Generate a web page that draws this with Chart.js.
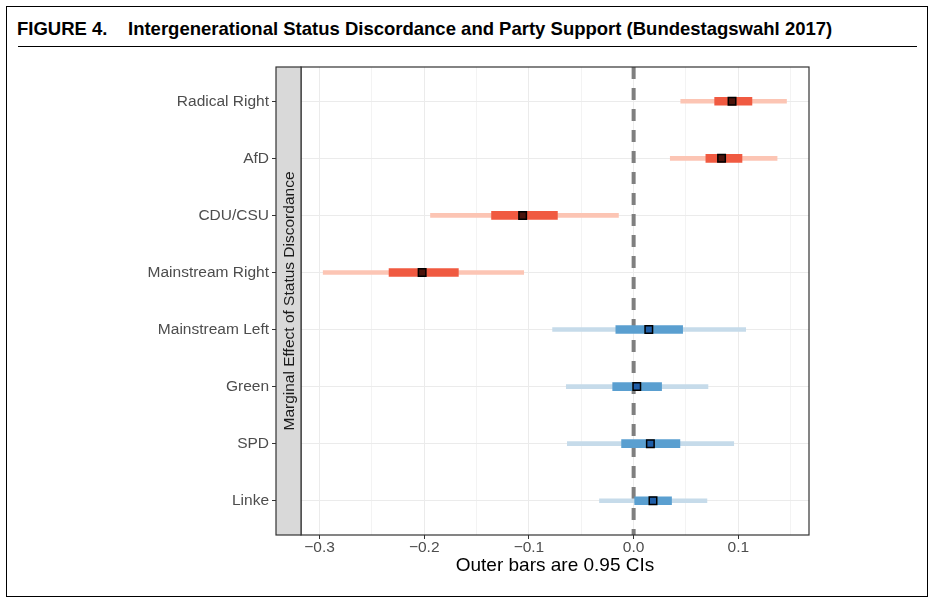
<!DOCTYPE html>
<html>
<head>
<meta charset="utf-8">
<script src="https://cdn.jsdelivr.net/npm/chart.js@4"></script>
<style>
  body { margin: 0; background: #fff; }
  #wrap { position: relative; width: 936px; height: 607px; overflow: hidden; }
  #frame { position: absolute; left: 6px; top: 6px; width: 922px; height: 591px; box-sizing: border-box; border: 1.5px solid #000; }
  .ttl { position: absolute; top: 18px; font: bold 18.5px "Liberation Sans", Arial, sans-serif; color: #000; line-height: 22px; white-space: nowrap; }
  #rule { position: absolute; left: 18px; top: 46px; width: 899px; border-top: 1.2px solid #000; }
  canvas { position: absolute; left: 0; top: 0; }
</style>
</head>
<body>
<div id="wrap">
  <div id="frame"></div>
  <div class="ttl" style="left:17px">FIGURE 4.</div>
  <div class="ttl" style="left:128px">Intergenerational Status Discordance and Party Support (Bundestagswahl 2017)</div>
  <div id="rule"></div>
  <canvas id="chart" width="936" height="607"></canvas>
</div>
<script>
// parties, top to bottom
const categories = ['Radical Right', 'AfD', 'CDU/CSU', 'Mainstream Right', 'Mainstream Left', 'Green', 'SPD', 'Linke'];
const groups = ['right', 'right', 'right', 'right', 'left', 'left', 'left', 'left'];

// marginal effects and intervals
const estimates = [0.094, 0.084, -0.106, -0.202, 0.0145, 0.003, 0.016, 0.0185];
const outerLow  = [0.045, 0.035, -0.194, -0.2965, -0.0774, -0.0643, -0.0633, -0.0326];
const outerHigh = [0.146, 0.137, -0.0145, -0.105, 0.107, 0.071, 0.0956, 0.070];
const innerLow  = [0.0774, 0.069, -0.1357, -0.2336, -0.017, -0.020, -0.0115, 0.001];
const innerHigh = [0.113, 0.1035, -0.0728, -0.1674, 0.0468, 0.0267, 0.0442, 0.0362];

const xTicks = [-0.3, -0.25, -0.2, -0.15, -0.1, -0.05, 0, 0.05, 0.1, 0.15];

const palette = {
    right: { outer: '#fcc5b4', inner: '#f05a41', point: '#4a130b' },
    left:  { outer: '#c6dbea', inner: '#5a9fd0', point: '#1f5ea8' }
};

const FONT = '"Liberation Sans", Arial, sans-serif';
const isMajor = v => Math.abs(v * 10 - Math.round(v * 10)) < 1e-9;
const fmt = v => v.toFixed(1).replace('-', '\u2212');

const stripPlugin = {
    id: 'strip',
    beforeDatasetsDraw(chart) {
        // dashed zero reference line, behind the bars
        const { ctx, chartArea } = chart;
        const x0 = chart.scales.x.getPixelForValue(0);
        ctx.save();
        ctx.strokeStyle = '#7f7f7f';
        ctx.lineWidth = 4;
        ctx.setLineDash([12, 9]);
        ctx.beginPath();
        ctx.moveTo(x0, chartArea.top);
        ctx.lineTo(x0, chartArea.bottom);
        ctx.stroke();
        ctx.restore();
    },
    afterDraw(chart) {
        const { ctx, chartArea } = chart;
        const h = chartArea.bottom - chartArea.top;
        ctx.save();
        // panel border
        ctx.strokeStyle = '#333';
        ctx.lineWidth = 1.2;
        ctx.strokeRect(chartArea.left, chartArea.top, chartArea.right - chartArea.left, h);
        // facet strip on the left
        const sx = chartArea.left - 25;
        ctx.fillStyle = '#d9d9d9';
        ctx.fillRect(sx, chartArea.top, 25, h);
        ctx.strokeRect(sx, chartArea.top, 25, h);
        ctx.translate(sx + 12.5, chartArea.top + h / 2);
        ctx.rotate(-Math.PI / 2);
        ctx.fillStyle = '#1a1a1a';
        ctx.font = '15.5px ' + FONT;
        ctx.textAlign = 'center';
        ctx.textBaseline = 'middle';
        ctx.fillText('Marginal Effect of Status Discordance', 0, 1);
        ctx.restore();
    }
};

const idx = categories.map((c, i) => i);

new Chart(document.getElementById('chart').getContext('2d'), {
    type: 'bar',
    data: {
        datasets: [
            {
                type: 'scatter',
                order: 0,
                data: idx.map(i => ({ x: estimates[i], y: i })),
                pointStyle: 'rect',
                pointRadius: 5.3,
                backgroundColor: idx.map(i => palette[groups[i]].point),
                borderColor: '#000',
                borderWidth: 1.5
            },
            {
                order: 1,
                data: idx.map(i => ({ x: [innerLow[i], innerHigh[i]], y: i })),
                backgroundColor: idx.map(i => palette[groups[i]].inner),
                barThickness: 8,
                grouped: false,
                borderSkipped: false
            },
            {
                order: 2,
                data: idx.map(i => ({ x: [outerLow[i], outerHigh[i]], y: i })),
                backgroundColor: idx.map(i => palette[groups[i]].outer),
                barThickness: 4,
                grouped: false,
                borderSkipped: false
            }
        ]
    },
    options: {
        indexAxis: 'y',
        responsive: false,
        animation: false,
        layout: { padding: { top: 67, right: 127, bottom: 0, left: 0 } },
        plugins: { legend: { display: false }, tooltip: { enabled: false } },
        scales: {
            x: {
                type: 'linear',
                min: -0.3177,
                max: 0.1675,
                offset: false,
                afterBuildTicks: s => { s.ticks = xTicks.map(v => ({ value: v })); },
                afterFit: s => { s.height = 72; },
                border: { display: false },
                grid: {
                    offset: false,
                    color: '#ebebeb',
                    lineWidth: c => (c.tick && isMajor(c.tick.value) ? 1 : 0.6),
                    tickColor: c => (c.tick && isMajor(c.tick.value) ? '#333' : 'rgba(0,0,0,0)'),
                    tickLength: 4
                },
                ticks: {
                    autoSkip: false,
                    maxRotation: 0,
                    padding: -1,
                    color: '#4d4d4d',
                    font: { family: FONT, size: 15.5 },
                    callback: v => (isMajor(v) ? fmt(v) : '')
                },
                title: {
                    display: true,
                    text: 'Outer bars are 0.95 CIs',
                    color: '#000',
                    font: { family: FONT, size: 19 },
                    padding: { top: 0, bottom: 29.5 }
                }
            },
            y: {
                type: 'linear',
                min: -0.6,
                max: 7.6,
                reverse: true,
                offset: false,
                afterBuildTicks: s => { s.ticks = idx.map(i => ({ value: i })); },
                afterFit: s => { s.width = 301; },
                border: { display: false },
                grid: {
                    offset: false,
                    color: '#ebebeb',
                    lineWidth: 1,
                    tickColor: '#333',
                    tickLength: 29
                },
                ticks: {
                    autoSkip: false,
                    padding: 3,
                    color: '#4d4d4d',
                    font: { family: FONT, size: 15.5 },
                    callback: v => categories[v]
                }
            }
        }
    },
    plugins: [stripPlugin]
});
</script>
</body>
</html>
